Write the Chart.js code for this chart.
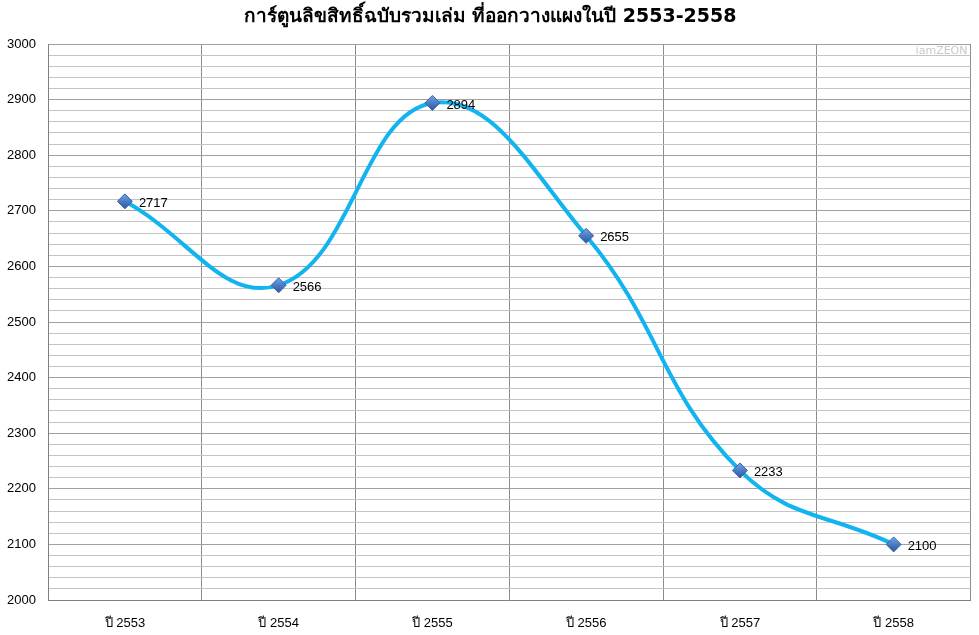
<!DOCTYPE html>
<html>
<head>
<meta charset="utf-8">
<script src="https://cdn.jsdelivr.net/npm/chart.js@4"></script>
<style>
  html, body { margin: 0; padding: 0; background: #fff; }
  #wrap { width: 979px; height: 635px; }
</style>
</head>
<body>
<div id="wrap"><canvas id="cartoonChart"></canvas></div>
<script>
var years = ["ปี 2553", "ปี 2554", "ปี 2555", "ปี 2556", "ปี 2557", "ปี 2558"];
var books = [2717, 2566, 2894, 2655, 2233, 2100];
var yMin = 2000, yMax = 3000;

var thaiFont = "Tahoma, 'DejaVu Sans', 'Noto Sans', sans-serif";
var tickFont = "'Liberation Sans', Tahoma, sans-serif";

// title, watermark and value labels
var extras = {
	id: 'extras',
	afterDatasetsDraw: function(chart) {
		var ctx = chart.ctx;
		ctx.save();
		ctx.fillStyle = '#000';
		ctx.font = "bold 19px " + thaiFont;
		ctx.textAlign = 'center';
		ctx.textBaseline = 'middle';
		ctx.fillText("การ์ตูนลิขสิทธิ์ฉบับรวมเล่ม ที่ออกวางแผงในปี 2553-2558", 490, 17);

		ctx.fillStyle = '#c8c8c8';
		ctx.font = "11px " + thaiFont;
		ctx.textAlign = 'right';
		ctx.fillText("iamZEON", chart.chartArea.right - 3, 51);

		var meta = chart.getDatasetMeta(0);
		ctx.fillStyle = '#000';
		ctx.font = "13px " + tickFont;
		ctx.textAlign = 'left';
		meta.data.forEach(function(pt, i) {
			ctx.fillText(String(books[i]), pt.x + 14, pt.y + 2);
		});
		ctx.restore();
	}
};

// light-to-dark diamond fill like the office marker
function markerFill(c) {
	var chart = c.chart;
	if (!chart.scales || !chart.scales.y || c.dataIndex === undefined) return '#4f7fc8';
	var y = chart.scales.y.getPixelForValue(books[c.dataIndex]);
	if (!isFinite(y)) return '#4f7fc8';
	var g = chart.ctx.createLinearGradient(0, y - 8, 0, y + 8);
	g.addColorStop(0, '#7aa7e6');
	g.addColorStop(0.5, '#4a7cc6');
	g.addColorStop(1, '#2b5597');
	return g;
}

var ctx = document.getElementById("cartoonChart").getContext("2d");
var cartoonChart = new Chart(ctx, {
	type: 'line',
	data: {
		labels: years,
		datasets: [{
			label: 'Books',
			data: books,
			borderColor: '#12b4ef',
			borderWidth: 4,
			tension: 0.42,
			pointStyle: 'rectRot',
			pointRadius: 7.5,
			pointHoverRadius: 7.5,
			pointBackgroundColor: markerFill,
			pointBorderColor: '#3a62a4',
			pointBorderWidth: 1
		}]
	},
	options: {
		responsive: true,
		maintainAspectRatio: false,
		animation: false,
		layout: { padding: { left: 0, right: 5, top: 44, bottom: 0 } },
		plugins: {
			legend: { display: false },
			tooltip: { enabled: false }
		},
		scales: {
			x: {
				offset: true,
				afterFit: function(s) { s.height = 35; },
				grid: { offset: true, color: '#8c8c8c', lineWidth: 1, drawTicks: false },
				border: { color: '#808080' },
				ticks: { color: '#000', padding: 16, font: { size: 13, family: tickFont } }
			},
			y: {
				min: yMin,
				max: yMax,
				afterFit: function(s) { s.width = 48; },
				grid: {
					drawTicks: false,
					color: function(c) { return c.tick.value % 100 === 0 ? '#a0a0a0' : '#c4c4c4'; }
				},
				border: { color: '#808080' },
				ticks: {
					stepSize: 20,
					autoSkip: false,
					color: '#000',
					padding: 12,
					font: { size: 13, family: tickFont },
					callback: function(v) { return v % 100 === 0 ? String(v) : ''; }
				}
			}
		}
	},
	plugins: [extras]
});
</script>
</body>
</html>
